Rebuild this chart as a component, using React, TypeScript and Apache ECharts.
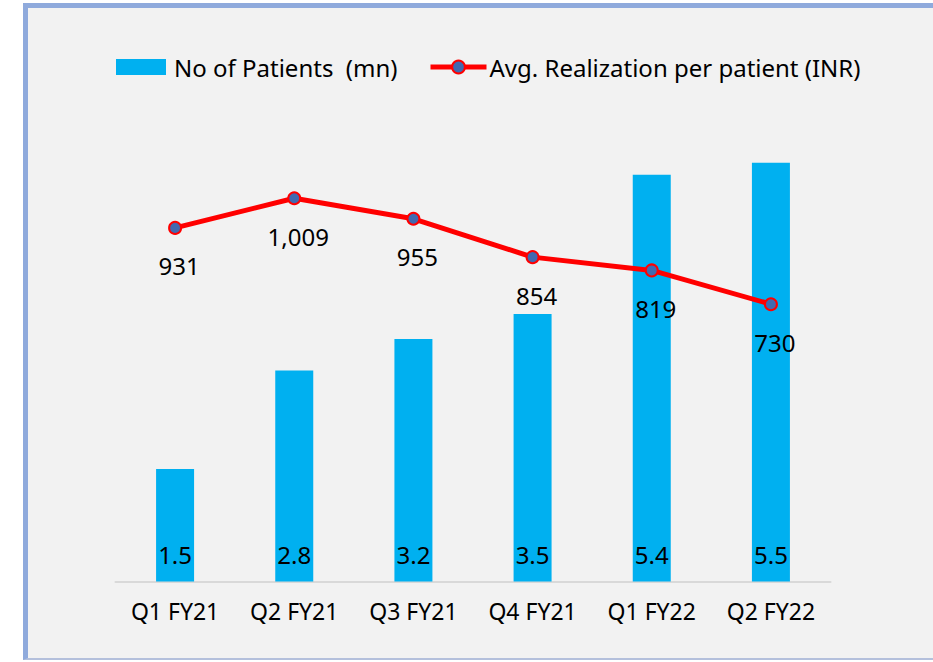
import React, { useEffect, useRef } from "react";
import * as echarts from "echarts";

const categories = ["Q1 FY21", "Q2 FY21", "Q3 FY21", "Q4 FY21", "Q1 FY22", "Q2 FY22"];
// values (labels show them rounded to one decimal)
const patients = [1.49, 2.79, 3.21, 3.54, 5.38, 5.54];
const realization = [931, 1009, 955, 854, 819, 730];
const seriesNames = ["No of Patients  (mn)", "Avg. Realization per patient (INR)"];

const FONT = "Noto Sans";

export default function App() {
  const ref = useRef<HTMLDivElement>(null);
  useEffect(() => {
    if (!ref.current) return;
    const chart = echarts.init(ref.current, undefined, { renderer: "svg" });
    chart.setOption({
      animation: false,
      backgroundColor: "transparent",
      textStyle: { fontFamily: FONT },
      legend: [
        {
          left: 116,
          top: 55,
          padding: 0,
          itemWidth: 50,
          itemHeight: 16,
          data: [{ name: seriesNames[0], icon: "rect" }],
          textStyle: { fontSize: 24, color: "#000", fontFamily: FONT, padding: [0, 0, 0, 3] },
        },
        {
          left: 428,
          top: 55,
          padding: 0,
          itemWidth: 56,
          itemHeight: 16,
          lineStyle: { width: 5 },
          data: [seriesNames[1]],
          textStyle: { fontSize: 24, color: "#000", fontFamily: FONT, padding: [0, 0, 0, -2] },
        },
      ],
      grid: { left: 115.5, right: 102.5, top: 128, bottom: 80.5, containLabel: false },
      xAxis: {
        type: "category",
        data: categories,
        boundaryGap: true,
        axisLine: { lineStyle: { color: "#d9d9d9", width: 2 } },
        axisTick: { show: false },
        axisLabel: { color: "#000", fontSize: 23, fontFamily: FONT, margin: 18 },
      },
      yAxis: [
        { type: "value", min: 0, max: 6, show: false, splitLine: { show: false } },
        { type: "value", min: 0, max: 1194, show: false, splitLine: { show: false } },
      ],
      series: [
        {
          name: seriesNames[0],
          type: "bar",
          data: patients,
          barWidth: 38,
          itemStyle: { color: "#00b0f0" },
          label: {
            show: true,
            position: "insideBottom",
            distance: 15,
            color: "#000",
            fontSize: 24,
            fontFamily: FONT,
            formatter: (p: any) => p.value.toFixed(1),
          },
        },
        {
          name: seriesNames[1],
          type: "line",
          yAxisIndex: 1,
          data: realization,
          symbol: "circle",
          symbolSize: 12,
          lineStyle: { color: "#ff0000", width: 5 },
          itemStyle: { color: "#4169b0", borderColor: "#ff0000", borderWidth: 2 },
          label: {
            show: true,
            position: "inside",
            offset: [4, 38],
            color: "#000",
            fontSize: 24,
            fontFamily: FONT,
            formatter: (p: any) => p.value.toLocaleString("en-US"),
          },
          z: 5,
        },
      ],
    });
    return () => chart.dispose();
  }, []);

  return (
    <div style={{ position: "fixed", left: 0, top: 0, width: 933, height: 662, background: "#fff", overflow: "hidden" }}>
      <div
        style={{
          position: "absolute",
          left: 23,
          top: 3,
          width: 940,
          height: 657,
          background: "#f2f2f2",
          borderLeft: "5px solid #8faadc",
          borderTop: "5px solid #8faadc",
          borderBottom: "2px solid #b4c0dc",
          boxSizing: "border-box",
        }}
      />
      <div ref={ref} style={{ position: "absolute", left: 0, top: 0, width: 933, height: 662 }} />
    </div>
  );
}
